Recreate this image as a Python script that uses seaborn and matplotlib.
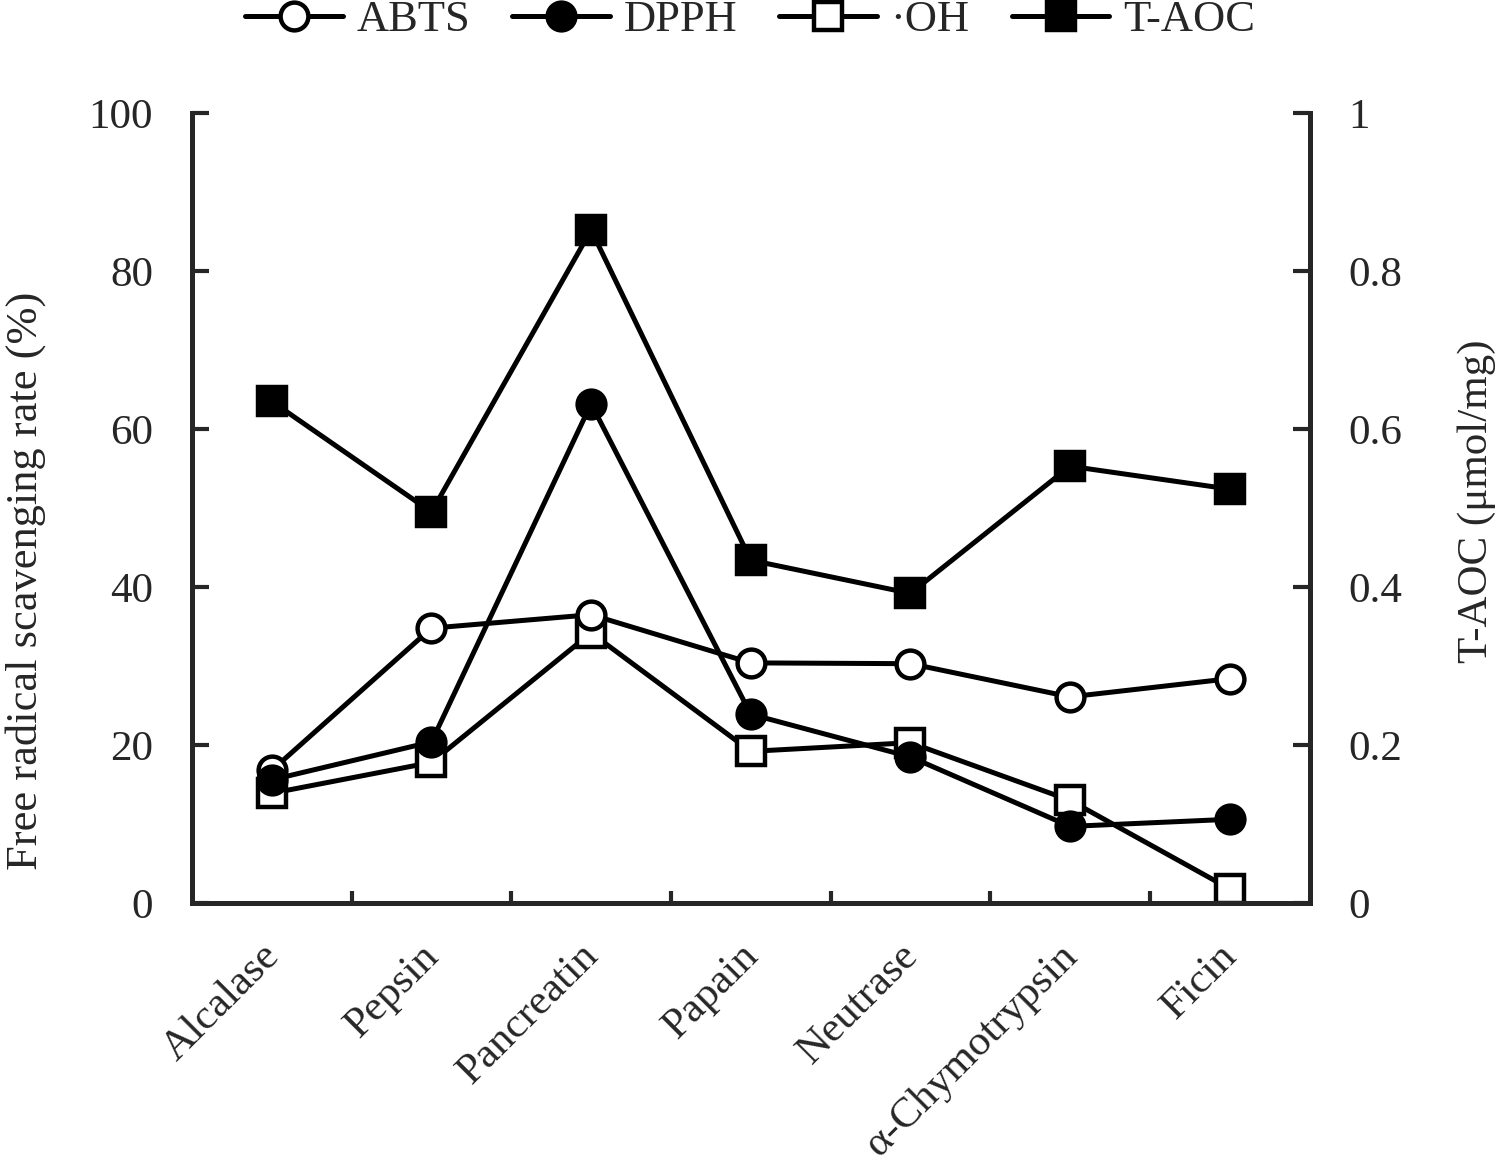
import numpy as np
import pandas as pd
import matplotlib.pyplot as plt
import matplotlib.transforms as mtransforms
import seaborn as sns

enzymes = ["Alcalase", "Pepsin", "Pancreatin", "Papain", "Neutrase", "α-Chymotrypsin", "Ficin"]
abts = [16.8, 34.8, 36.5, 30.4, 30.3, 26.1, 28.4]
dpph = [15.6, 20.4, 63.2, 23.9, 18.5, 9.7, 10.6]
oh = [13.9, 17.8, 34.2, 19.2, 20.3, 13.0, 1.8]
taoc = [0.635, 0.495, 0.852, 0.434, 0.392, 0.553, 0.524]

df = pd.DataFrame({"pos": np.arange(len(enzymes)), "enzyme": enzymes,
                   "ABTS": abts, "DPPH": dpph, "OH": oh, "TAOC": taoc})

sns.set_style("ticks")
plt.rcParams["font.family"] = ["Liberation Serif", "DejaVu Serif"]

fig = plt.figure(figsize=(15, 11.72), dpi=100)
ax = fig.add_axes([0.128, 0.2295, 0.745, 0.674])
ax2 = ax.twinx()

lw = 3.6
ms = 20
mew = 3.2
common = dict(color="black", linewidth=lw, markersize=ms, markeredgewidth=mew,
              markeredgecolor="black")

sns.lineplot(data=df, x="pos", y="ABTS", ax=ax, marker="o", markerfacecolor="white",
             label="ABTS", legend=False, zorder=3, **common)
sns.lineplot(data=df, x="pos", y="DPPH", ax=ax, marker="o", markerfacecolor="black",
             label="DPPH", legend=False, zorder=4, **common)
sns.lineplot(data=df, x="pos", y="OH", ax=ax, marker="s", markerfacecolor="white",
             label="·OH", legend=False, zorder=2, **common)
sns.lineplot(data=df, x="pos", y="TAOC", ax=ax2, marker="s", markerfacecolor="black",
             label="T-AOC", legend=False, zorder=3, **common)

ax.set_xlim(-0.5, len(enzymes) - 0.5)
ax.set_ylim(0, 100)
ax2.set_ylim(0, 1)
ax.set_yticks([0, 20, 40, 60, 80, 100])
ax2.set_yticks([0, 0.2, 0.4, 0.6, 0.8, 1.0])
ax2.set_yticklabels(["0", "0.2", "0.4", "0.6", "0.8", "1"])

ax.set_xticks(np.arange(len(enzymes)))
ax.set_xticklabels(enzymes, rotation=45, ha="right", rotation_mode="anchor")
ax.set_xticks(np.arange(0.5, len(enzymes) - 1, 1), minor=True)
ax.tick_params(axis="x", which="major", length=0, pad=24, labelsize=31)
ax.tick_params(axis="x", which="minor", direction="in", length=9, width=3)
ax.tick_params(axis="y", direction="in", length=12, width=3, labelsize=31, pad=28)
ax2.tick_params(axis="y", direction="in", length=12, width=3, labelsize=31, pad=28)

shift = mtransforms.ScaledTranslation(-0.12, 0, fig.dpi_scale_trans)
for lab in ax.get_xticklabels():
    lab.set_transform(lab.get_transform() + shift)

for a in (ax, ax2):
    for s in a.spines.values():
        s.set_linewidth(3.6)
    a.spines["top"].set_visible(False)
ax.spines["right"].set_visible(False)

ax.set_xlabel("")
ax.set_ylabel("Free radical scavenging rate (%)", fontsize=32)
ax.yaxis.set_label_coords(-0.131, 0.408)
ax2.set_ylabel("T-AOC (μmol/mg)", fontsize=31)
ax2.yaxis.set_label_coords(1.132, 0.508)

h1, l1 = ax.get_legend_handles_labels()
h2, l2 = ax2.get_legend_handles_labels()
fig.legend(h1 + h2, l1 + l2, loc="upper center", bbox_to_anchor=(0.5, 1.034), ncol=4,
           frameon=False, fontsize=32, handlelength=2.2, columnspacing=0.95,
           handletextpad=0.3)

fig.savefig("out.png", dpi=100)
